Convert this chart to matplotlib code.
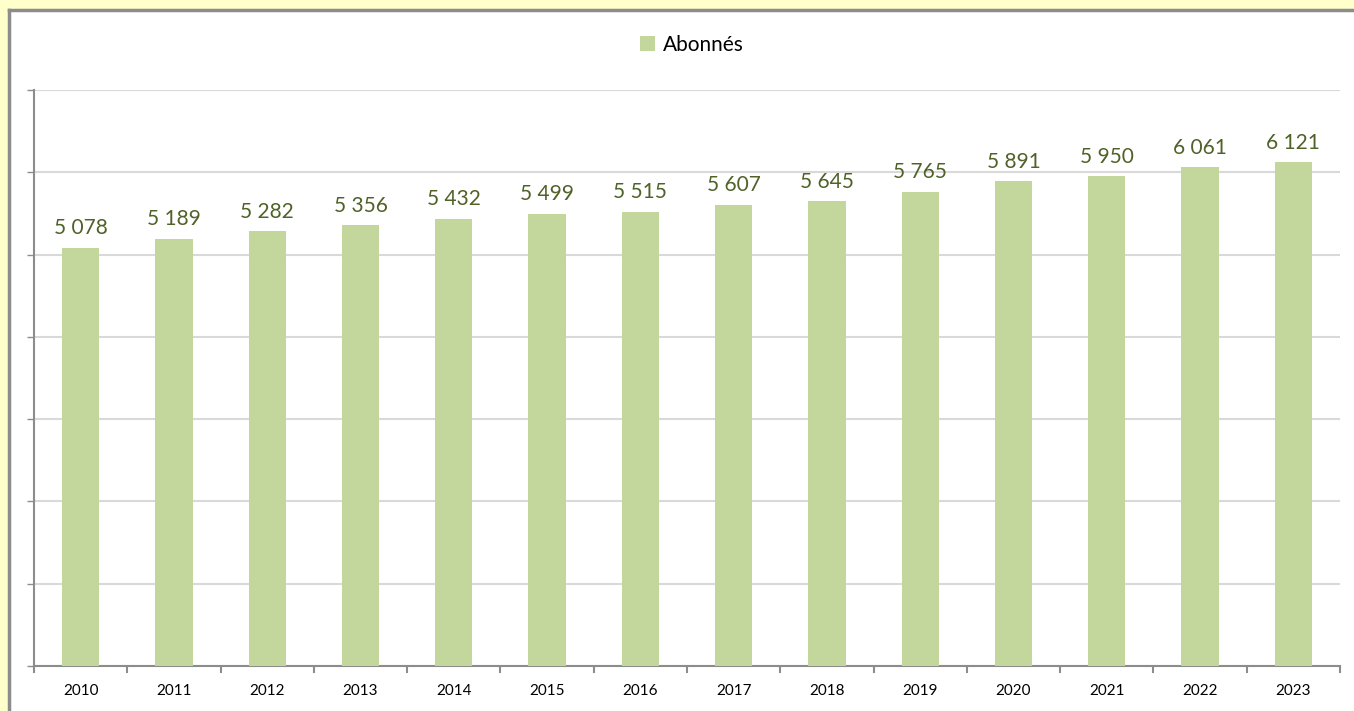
import numpy as np
import matplotlib as mpl
mpl.use('Agg')
import matplotlib.pyplot as plt
from matplotlib.patches import Rectangle
from matplotlib.lines import Line2D

# data
years = ['2010', '2011', '2012', '2013', '2014', '2015', '2016',
         '2017', '2018', '2019', '2020', '2021', '2022', '2023']
abonnes = [5078, 5189, 5282, 5356, 5432, 5499, 5515,
           5607, 5645, 5765, 5891, 5950, 6061, 6121]

plt.rcParams['font.family'] = ['Lato', 'DejaVu Sans']

fig = plt.figure(figsize=(13.54, 7.11), dpi=100)
fig.patch.set_facecolor('#FFFFCC')

# white chart panel with grey top/left border (cropped at right and bottom)
px = 1 / 1354.0
py = 1 / 711.0
fig.patches.append(Rectangle((9 * px, 0), 1.0, 1 - 10 * py, transform=fig.transFigure,
                             facecolor='white', edgecolor='none', zorder=-10))
fig.lines.append(Line2D([9 * px, 9 * px], [0, 1 - 10 * py], transform=fig.transFigure,
                        color='#8C8C8C', lw=2.5, zorder=-5))
fig.lines.append(Line2D([9 * px, 1], [1 - 10 * py, 1 - 10 * py], transform=fig.transFigure,
                        color='#8C8C8C', lw=2.5, zorder=-5))

ax = fig.add_axes([34 * px, 1 - 666 * py, (1340 - 34) * px, (666 - 90) * py])
ax.set_facecolor('none')

x = np.arange(len(years))
bars = ax.bar(x, abonnes, width=0.4, color='#C3D69B', label='Abonnés', zorder=3)

for xi, v in zip(x, abonnes):
    s = '{:,}'.format(v).replace(',', ' ')
    ax.annotate(s, (xi, v), xytext=(0, 7), textcoords='offset points',
                ha='center', va='bottom', fontsize=15, color='#4F6228')

ax.set_xlim(-0.5, len(years) - 0.5)
ax.set_ylim(0, 7000)
ax.set_yticks(np.arange(0, 7001, 1000))
ax.set_yticklabels([])
ax.yaxis.grid(True, color='#D9D9D9', lw=1.5, zorder=0)
ax.set_axisbelow(True)

ax.set_xticks(x)
ax.set_xticklabels(years, fontsize=11, color='black')
ax.set_xticks(np.arange(-0.5, len(years), 1), minor=True)
ax.tick_params(axis='x', which='major', length=0, pad=13)
ax.tick_params(axis='x', which='minor', length=5, color='#8C8C8C', width=1.5, direction='out')
ax.tick_params(axis='y', length=5, color='#8C8C8C', width=1, direction='out')

for side in ['top', 'right']:
    ax.spines[side].set_visible(False)
for side in ['left', 'bottom']:
    ax.spines[side].set_color('#8C8C8C')
    ax.spines[side].set_linewidth(1.5)

leg = fig.legend(handles=[bars], labels=['Abonnés'], loc='center',
                 bbox_to_anchor=(692 * px, 1 - 45 * py), frameon=False,
                 fontsize=15, handlelength=0.7, handleheight=0.7, handletextpad=0.4)

fig.savefig('out.png', dpi=100, facecolor=fig.get_facecolor())
